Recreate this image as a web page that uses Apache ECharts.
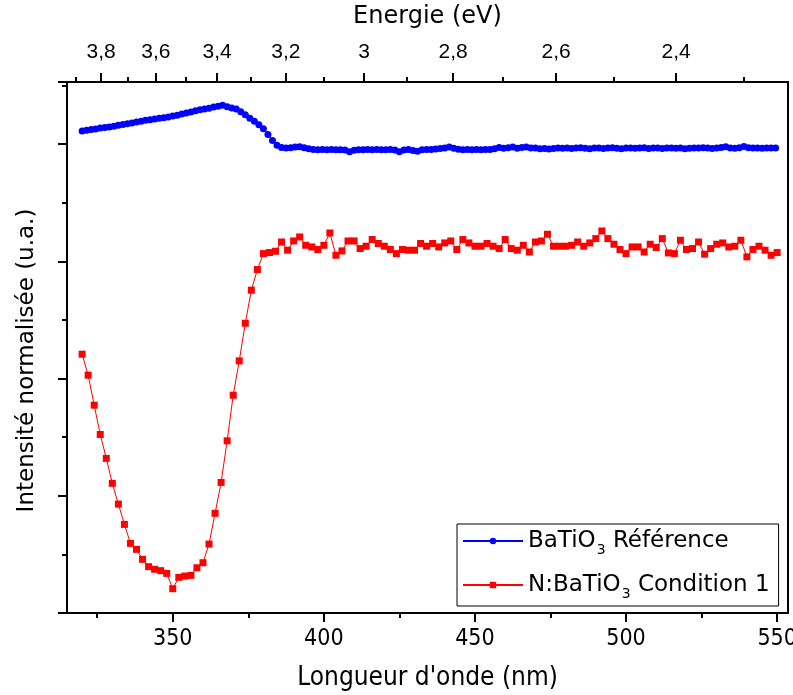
<!DOCTYPE html>
<html><head><meta charset="utf-8">
<script src="https://cdn.jsdelivr.net/npm/echarts@6/dist/echarts.min.js"></script>
<style>html,body{margin:0;padding:0;background:#fff}#c{width:793px;height:695px}</style>
</head><body><div id="c"></div>
<script>
// BaTiO3 Référence: wavelength (nm) and normalised intensity (a.u.)
const refWavelengths = [320,321.5,323,324.5,326,327.5,329,330.5,332,333.5,335,336.5,338,339.5,341,342.5,344,345.5,347,348.5,350,351.5,353,354.5,356,357.5,359,360.5,362,363.5,365,366.5,
368,369.5,371,372.5,374,375.5,377,378.5,380,381.5,383,384.5,386,387.5,389,390.5,
392,393.5,395,396.5,398,399.5,401,402.5,404,405.5,407,408.5,410,411.5,413,414.5,416,417.5,419,420.5,422,423.5,425,426.5,428,429.5,431,432.5,434,435.5,437,438.5,440,441.5,443,444.5,446,447.5,449,450.5,452,453.5,455,456.5,458,459.5,461,462.5,464,465.5,467,468.5,470,471.5,473,474.5,476,
477.5,479,480.5,482,483.5,485,486.5,488,489.5,491,492.5,494,495.5,497,498.5,500,501.5,503,504.5,506,507.5,509,510.5,512,513.5,515,516.5,518,519.5,521,522.5,524,525.5,527,528.5,530,531.5,533,534.5,536,537.5,539,540.5,542,543.5,545,546.5,548,549.5];
const refIntensity = [4.112,4.118,4.124,4.129,4.137,4.141,4.146,4.152,4.160,4.167,4.174,4.181,4.188,4.196,4.203,4.208,4.215,4.220,4.226,4.232,4.240,4.247,4.256,4.266,4.275,4.284,4.293,4.299,4.306,4.316,4.324,4.331,
4.318,4.308,4.300,4.276,4.250,4.220,4.195,4.165,4.132,4.082,4.030,3.990,3.972,3.967,3.970,3.975,
3.978,3.970,3.960,3.955,3.953,3.955,3.952,3.954,3.953,3.952,3.950,3.935,3.948,3.953,3.952,3.954,3.953,3.955,3.952,3.953,3.954,3.950,3.936,3.950,3.955,3.945,3.940,3.953,3.955,3.954,3.958,3.962,3.968,3.975,3.965,3.956,3.953,3.955,3.953,3.954,3.952,3.955,3.954,3.960,3.972,3.965,3.970,3.975,3.965,3.972,3.975,3.968,3.966,3.960,3.962,3.958,3.962,
3.966,3.964,3.968,3.962,3.966,3.970,3.964,3.960,3.966,3.968,3.962,3.966,3.970,3.965,3.960,3.966,3.968,3.964,3.966,3.970,3.963,3.966,3.968,3.962,3.966,3.968,3.964,3.966,3.960,3.964,3.968,3.966,3.970,3.966,3.962,3.966,3.972,3.978,3.968,3.964,3.970,3.980,3.970,3.966,3.968,3.964,3.966,3.968,3.966];

// N:BaTiO3 Condition 1: wavelength (nm) and normalised intensity (a.u.)
const nWavelengths = [320,322,324,326,328,330,332,334,336,338,340,342,344,346,348,350,352,354,356,358,360,362,364,366,368,370,372,374,376,378,380,382,384,386,388,390,392,394,396,398,400,402,404,406,408,410,412,414,416,418,420,422,424,426,428,430,432,434,436,438,440,442,444,446,448,450,452,454,456,458,460,462,464,466,468,470,472,474,476,478,480,482,484,486,488,490,492,494,496,498,500,502,504,506,508,510,512,514,516,518,520,522,524,526,528,530,532,534,536,538,540,542,544,546,548,550];
const nIntensity = [2.208,2.029,1.773,1.523,1.319,1.106,0.929,0.756,0.594,0.543,0.458,0.395,0.373,0.361,0.338,0.207,0.304,0.315,0.321,0.386,0.429,0.588,0.850,1.114,1.469,1.858,2.151,2.472,2.754,2.930,3.066,3.075,3.086,3.165,3.095,3.174,3.208,3.137,3.123,3.101,3.137,3.242,3.052,3.089,3.174,3.174,3.109,3.129,3.186,3.152,3.129,3.101,3.066,3.101,3.095,3.095,3.152,3.129,3.152,3.123,3.157,3.174,3.101,3.186,3.157,3.129,3.129,3.152,3.129,3.109,3.186,3.109,3.095,3.137,3.080,3.165,3.174,3.231,3.129,3.129,3.129,3.137,3.165,3.129,3.157,3.194,3.259,3.194,3.146,3.101,3.066,3.123,3.123,3.080,3.146,3.118,3.194,3.072,3.066,3.180,3.101,3.109,3.165,3.061,3.109,3.146,3.157,3.123,3.129,3.180,3.038,3.101,3.129,3.095,3.052,3.075];

const seriesNames = ['BaTiO3 Référence', 'N:BaTiO3 Condition 1'];
const bottomMajorTicks = [350,400,450,500,550];
const bottomMinorTicks = [325,375,425,475,525];
const energyMajorTicks = [3.8,3.6,3.4,3.2,3.0,2.8,2.6,2.4];
const energyMinorTicks = [3.9,3.7,3.5,3.3,3.1,2.9,2.7,2.5,2.3];
const HC = 1239.84;

const XMIN = 315.0, XMAX = 553.6;
const YMIN = 0, YMAX = 4.53;
const gridBox = {left: 67, right: 5, top: 82, bottom: 82, outerBoundsMode: 'none', containLabel: false};
const narrow = '"Liberation Sans Narrow", "DejaVu Sans Condensed", sans-serif';
const wide = '"DejaVu Sans", sans-serif';
const arial = '"Liberation Sans", Arial, sans-serif';

const toNm = e => HC / e;
const fmtE = v => { const e = Math.round(HC / v * 10) / 10; return Math.abs(e - Math.round(e)) < 1e-6 ? String(Math.round(e)) : e.toFixed(1).replace('.', ','); };

const chart = echarts.init(document.getElementById('c'), null, {renderer: 'canvas'});
const axisLine = {show: true, lineStyle: {color: '#000', width: 2}};
chart.setOption({
  animation: false,
  backgroundColor: '#fff',
  grid: [
    Object.assign({show: true, borderColor: '#000', borderWidth: 2, backgroundColor: 'transparent'}, gridBox),
    Object.assign({show: false}, gridBox)
  ],
  xAxis: [
    {gridIndex: 0, position: 'bottom', type: 'value', min: XMIN, max: XMAX,
     axisLine: axisLine, splitLine: {show: false},
     axisTick: {show: true, inside: false, length: 9, customValues: bottomMajorTicks, lineStyle: {color: '#000', width: 2}},
     axisLabel: {show: true, customValues: bottomMajorTicks, margin: 15, color: '#000', fontFamily: narrow, fontSize: 23},
     name: "Longueur d'onde (nm)", nameLocation: 'middle', nameGap: 52,
     nameTextStyle: {color: '#000', fontFamily: narrow, fontSize: 26}},
    {gridIndex: 0, position: 'top', type: 'value', min: XMIN, max: XMAX,
     axisLine: axisLine, splitLine: {show: false},
     axisTick: {show: true, inside: false, length: 9, customValues: energyMajorTicks.map(toNm), lineStyle: {color: '#000', width: 2}},
     axisLabel: {show: true, customValues: energyMajorTicks.map(toNm), formatter: fmtE, margin: 19, color: '#000', fontFamily: arial, fontSize: 21},
     name: 'Energie (eV)', nameLocation: 'middle', nameGap: 53,
     nameTextStyle: {color: '#000', fontFamily: wide, fontSize: 24}},
    {gridIndex: 1, position: 'bottom', type: 'value', min: XMIN, max: XMAX,
     axisLine: {show: false}, splitLine: {show: false}, axisLabel: {show: false},
     axisTick: {show: true, inside: false, length: 5, customValues: bottomMinorTicks, lineStyle: {color: '#000', width: 2}}},
    {gridIndex: 1, position: 'top', type: 'value', min: XMIN, max: XMAX,
     axisLine: {show: false}, splitLine: {show: false}, axisLabel: {show: false},
     axisTick: {show: true, inside: false, length: 5, customValues: energyMinorTicks.map(toNm), lineStyle: {color: '#000', width: 2}}}
  ],
  yAxis: [
    {gridIndex: 0, position: 'left', type: 'value', min: YMIN, max: YMAX, interval: 1,
     axisLine: axisLine, splitLine: {show: false}, axisLabel: {show: false},
     axisTick: {show: true, inside: false, length: 9, lineStyle: {color: '#000', width: 2}},
     minorTick: {show: true, splitNumber: 2, length: 5, lineStyle: {color: '#000', width: 2}},
     minorSplitLine: {show: false},
     name: 'Intensité normalisée (u.a.)', nameLocation: 'middle', nameGap: 28, nameRotate: 90,
     nameTextStyle: {color: '#000', fontFamily: wide, fontSize: 23, padding: [0, 26, 0, 0]}},
    {gridIndex: 1, position: 'left', type: 'value', min: YMIN, max: YMAX, show: false}
  ],
  legend: {
    orient: 'vertical', left: 457, top: 524,
    borderColor: '#000', borderWidth: 1, padding: [1, 9, 5, 5],
    itemWidth: 60, itemHeight: 8, itemGap: 12,
    data: seriesNames,
    formatter: function (name) {
      if (name === seriesNames[0]) return '{t|BaTiO}{s|3}{t| Référence}';
      return '{t|N:BaTiO}{s|3}{t| Condition 1}';
    },
    textStyle: {
      color: '#000', fontFamily: wide, fontSize: 23,
      rich: {
        t: {fontFamily: wide, fontSize: 23, color: '#000', lineHeight: 28},
        s: {fontFamily: wide, fontSize: 14, color: '#000', lineHeight: 28, padding: [18, 0, 0, 1]}
      }
    }
  },
  series: [
    {name: seriesNames[0], type: 'line', xAxisIndex: 0, yAxisIndex: 0,
     data: refWavelengths.map((w, i) => [w, refIntensity[i]]),
     symbol: 'circle', symbolSize: 7, showSymbol: true,
     itemStyle: {color: '#0000ff'}, lineStyle: {color: '#0000ff', width: 1}},
    {name: seriesNames[1], type: 'line', xAxisIndex: 0, yAxisIndex: 0,
     data: nWavelengths.map((w, i) => [w, nIntensity[i]]),
     symbol: 'rect', symbolSize: 7, showSymbol: true,
     itemStyle: {color: '#ff0000'}, lineStyle: {color: '#ff0000', width: 1}}
  ]
});
</script>
</body></html>
